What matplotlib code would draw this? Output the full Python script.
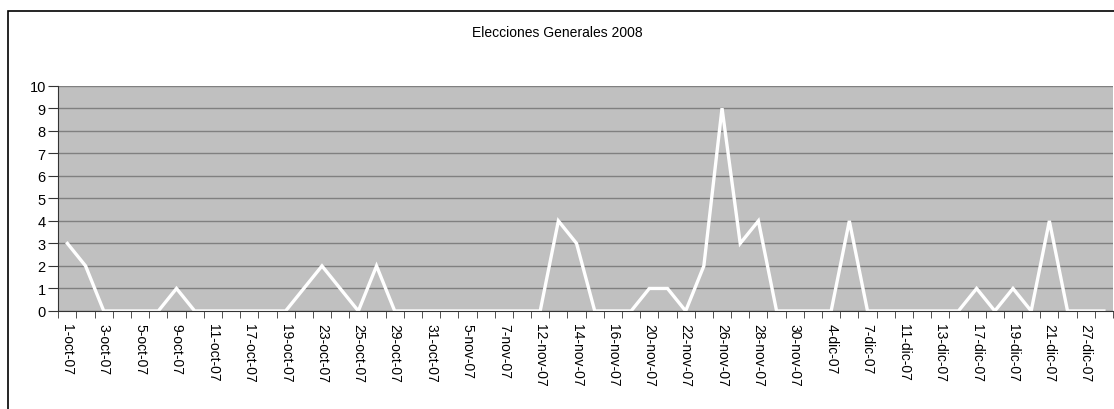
import matplotlib.pyplot as plt
import numpy as np
from matplotlib.patches import Rectangle

fechas = ["1-oct-07", "2-oct-07", "3-oct-07", "4-oct-07", "5-oct-07", "8-oct-07",
          "9-oct-07", "10-oct-07", "11-oct-07", "16-oct-07", "17-oct-07", "18-oct-07",
          "19-oct-07", "22-oct-07", "23-oct-07", "24-oct-07", "25-oct-07", "26-oct-07",
          "29-oct-07", "30-oct-07", "31-oct-07", "2-nov-07", "5-nov-07", "6-nov-07",
          "7-nov-07", "8-nov-07", "12-nov-07", "13-nov-07", "14-nov-07", "15-nov-07",
          "16-nov-07", "19-nov-07", "20-nov-07", "21-nov-07", "22-nov-07", "23-nov-07",
          "26-nov-07", "27-nov-07", "28-nov-07", "29-nov-07", "30-nov-07", "3-dic-07",
          "4-dic-07", "5-dic-07", "7-dic-07", "10-dic-07", "11-dic-07", "12-dic-07",
          "13-dic-07", "14-dic-07", "17-dic-07", "18-dic-07", "19-dic-07", "20-dic-07",
          "21-dic-07", "26-dic-07", "27-dic-07", "28-dic-07"]
noticias = [3, 2, 0, 0, 0, 0, 1, 0, 0, 0, 0, 0,
            0, 1, 2, 1, 0, 2, 0, 0, 0, 0, 0, 0,
            0, 0, 0, 4, 3, 0, 0, 0, 1, 1, 0, 2,
            9, 3, 4, 0, 0, 0, 0, 4, 0, 0, 0, 0,
            0, 0, 1, 0, 1, 0, 4, 0, 0, 0]
titulo = "Elecciones Generales 2008"

plt.rcParams['font.family'] = ['Liberation Sans', 'DejaVu Sans']

fig = plt.figure(figsize=(11.14, 4.10), dpi=100)

# marco exterior del grafico (recortado a la derecha y abajo)
fig.patches.append(Rectangle((8 / 1114, -0.1), 1.2, 1 - 12 / 410 + 0.1,
                             transform=fig.transFigure, fill=False,
                             edgecolor='black', linewidth=1.2))

ax = fig.add_axes([58.3 / 1114, 98 / 410, (1113 - 58.3) / 1114, (312 - 86.7) / 410])
ax.set_facecolor('#C0C0C0')

x = np.arange(len(fechas))
ax.plot(x, noticias, color='white', linewidth=2.4, solid_joinstyle='miter')

ax.set_xlim(-0.5, len(fechas) - 0.5)
ax.set_ylim(0, 10)
ax.set_yticks(range(0, 11))
ax.yaxis.grid(True, color='#808080', linewidth=1)
ax.set_axisbelow(True)

ax.set_xticks(x[::2])
ax.set_xticklabels(fechas[::2], rotation=270, fontsize=10)
ax.set_xticks(np.arange(-0.5, len(fechas)), minor=True)
ax.tick_params(axis='x', which='major', length=0, pad=9)
ax.tick_params(axis='x', which='minor', length=5, direction='out', color='#333333')
ax.tick_params(axis='y', length=7, direction='out', color='#333333', labelsize=10.5, pad=2)

for s in ['top', 'right']:
    ax.spines[s].set_visible(False)
ax.spines['left'].set_color('#333333')
ax.spines['bottom'].set_color('#333333')

fig.text(0.5, 1 - 33 / 410, titulo, ha='center', va='center', fontsize=10)

plt.savefig('out.png', dpi=100)
